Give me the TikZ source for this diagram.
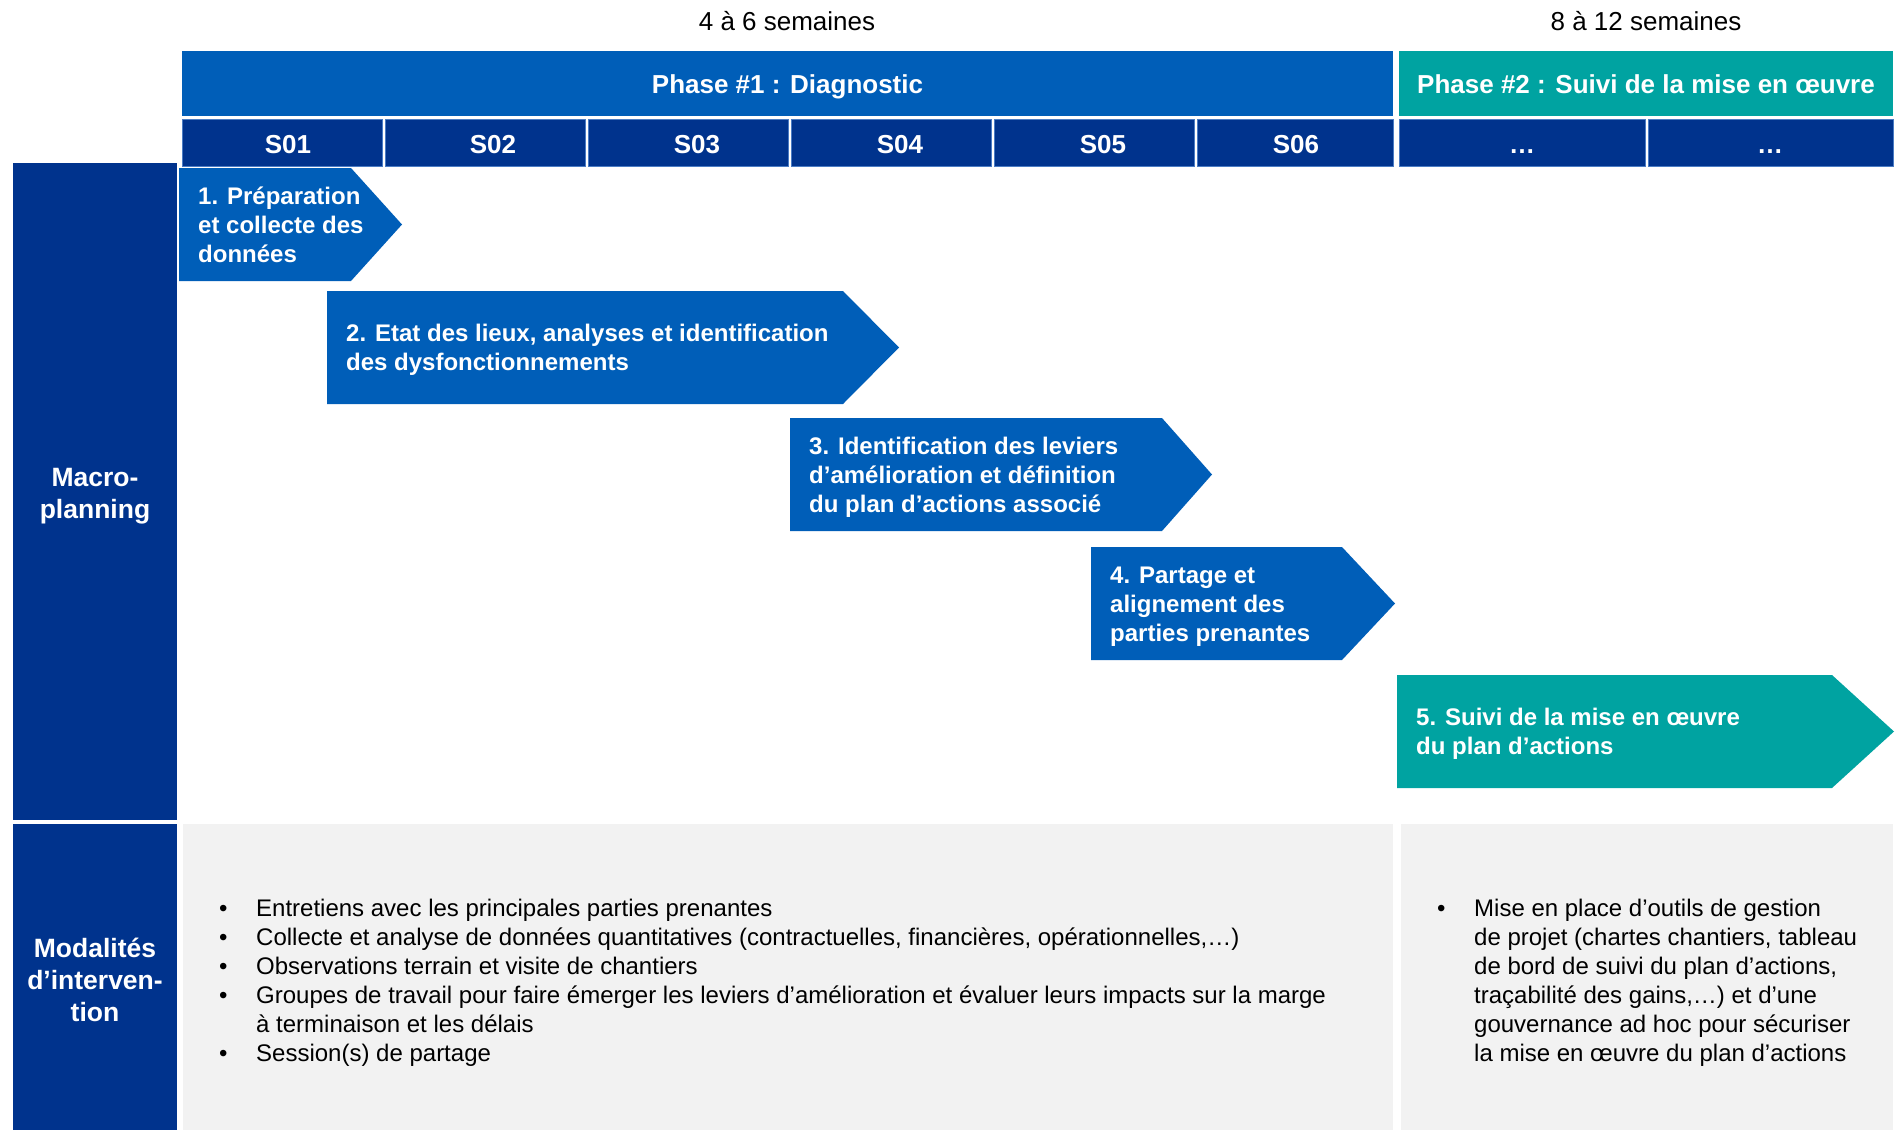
\documentclass[tikz,border=0pt]{standalone}
\usepackage{fontspec}
\setmainfont{Liberation Sans}
\definecolor{phblue}{HTML}{005EB8}
\definecolor{navy}{HTML}{00338D}
\definecolor{tealc}{HTML}{00A3A1}
\definecolor{lgray}{HTML}{F2F2F2}
\definecolor{cellline}{HTML}{4A7CC4}
\tikzset{
  toplabel/.style={font=\fontsize{26}{31}\selectfont, text=black, anchor=base, inner sep=0pt},
  hdrlabel/.style={font=\fontsize{26}{31}\selectfont\bfseries, text=white, anchor=base, inner sep=0pt},
  weeklabel/.style={font=\fontsize{26}{31}\selectfont\bfseries, text=white, anchor=base, inner sep=0pt},
  weekcell/.style={fill=navy, draw=cellline, line width=0.8pt},
  sidelabel/.style={font=\fontsize{26.5}{32}\selectfont\bfseries, text=white, align=center, inner sep=0pt},
  arrowtxt/.style={font=\fontsize{24}{29}\selectfont\bfseries, text=white, anchor=west, inner sep=0pt},
  bodytxt/.style={font=\fontsize{24}{29}\selectfont, text=black, anchor=west, inner sep=0pt},
}
% name, x-left, x-tip, y-top, colour, text, tip depth
\newcommand{\chev}[7]{%
  \fill[#5] (#2,#4) -- ({#3-#7},#4) -- (#3,{#4+56.5}) -- ({#3-#7},{#4+113}) -- (#2,{#4+113}) -- cycle;
  \node[arrowtxt] (#1) at ({#2+19},{#4+59.5}) {\begin{tabular}{@{}l@{}}#6\end{tabular}};
}
\begin{document}
\begin{tikzpicture}[x=1pt,y=-1pt]
\useasboundingbox (0,0) rectangle (1899,1130);
\fill[white] (0,0) rectangle (1899,1130);

% top duration labels
\node[toplabel] (dur1) at (787,30) {4 à 6 semaines};
\node[toplabel] (dur2) at (1646,30) {8 à 12 semaines};

% phase bars
\fill[phblue] (182,51) rectangle (1393,116);
\fill[tealc] (1399,51) rectangle (1893,116);
\node[hdrlabel] (ph1) at (787.5,93) {Phase \#1 : Diagnostic};
\node[hdrlabel] (ph2) at (1646,93) {Phase \#2 : Suivi de la mise en œuvre};

% week cells
\foreach \xa/\xb/\xl/\lab/\nm in {182/382/288/S01/w1, 385/585/493/S02/w2, 588/788/697/S03/w3, 791/991/900/S04/w4, 994/1194/1103/S05/w5, 1197/1393/1296/S06/w6, 1399/1645/1522/…/w7, 1648/1893/1770/…/w8}{
  \path[weekcell] (\xa,119) rectangle (\xb,166);
  \node[weeklabel] (\nm) at (\xl,153) {\lab};
}

% left column
\fill[navy] (13,163) rectangle (177,820);
\fill[navy] (13,824) rectangle (177,1130);
\node[sidelabel] (macro) at (95,496) {Macro-\\planning};
\node[sidelabel] (modal) at (95,980) {Modalités\\d’interven-\\tion};

% gray panels
\fill[lgray] (183,824) rectangle (1393,1130);
\fill[lgray] (1401,824) rectangle (1893,1130);

% chevrons
\chev{a1}{179}{402}{168}{phblue}{1. Préparation\\et collecte des\\données}{51}
\chev{a2}{327}{899}{291}{phblue}{2. Etat des lieux, analyses et identification\\des dysfonctionnements}{56}
\chev{a3}{790}{1212}{418}{phblue}{3. Identification des leviers\\d’amélioration et définition\\du plan d’actions associé}{50}
\chev{a4}{1091}{1395}{547}{phblue}{4. Partage et\\alignement des\\parties prenantes}{53}
\chev{a5}{1397}{1894}{675}{tealc}{5. Suivi de la mise en œuvre\\du plan d’actions}{62}

% body text
\node[bodytxt] (body1) at (219,983) {\begin{tabular}{@{}p{37pt}@{}l@{}}
•& Entretiens avec les principales parties prenantes\\
•& Collecte et analyse de données quantitatives (contractuelles, financières, opérationnelles,…)\\
•& Observations terrain et visite de chantiers\\
•& Groupes de travail pour faire émerger les leviers d’amélioration et évaluer leurs impacts sur la marge\\
 & à terminaison et les délais\\
•& Session(s) de partage
\end{tabular}};
\node[bodytxt] (body2) at (1437,983) {\begin{tabular}{@{}p{37pt}@{}l@{}}
•& Mise en place d’outils de gestion\\
 & de projet (chartes chantiers, tableau\\
 & de bord de suivi du plan d’actions,\\
 & traçabilité des gains,…) et d’une\\
 & gouvernance ad hoc pour sécuriser\\
 & la mise en œuvre du plan d’actions
\end{tabular}};
\end{tikzpicture}
\end{document}
